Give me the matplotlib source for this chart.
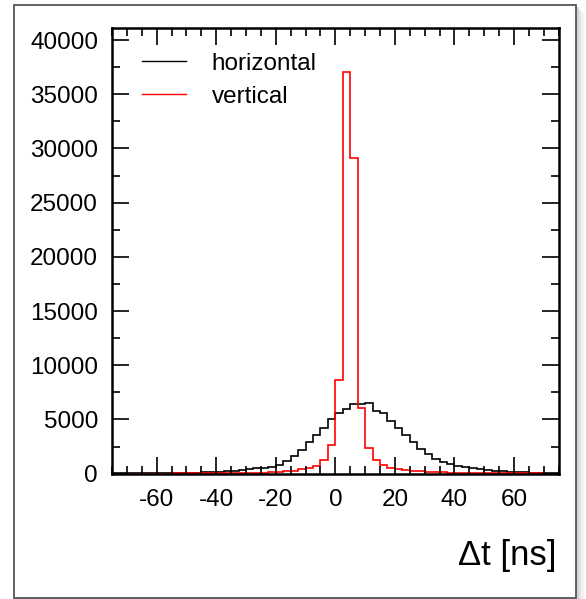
import matplotlib
matplotlib.use("Agg")
import matplotlib.pyplot as plt
from matplotlib.patches import Rectangle
from matplotlib.ticker import MultipleLocator
import numpy as np

# bin edges: 60 bins of 2.5 ns from -75 to 75
edges = np.arange(-75, 75.01, 2.5)

# horizontal counts per bin
horizontal = [15, 20, 25, 30, 35, 40, 50, 55, 65, 75,
              90, 100, 120, 140, 170, 200, 240, 330, 400, 490,
              560, 640, 800, 1150, 1600, 2180, 2870, 3560, 4250, 5080,
              5620, 5960, 6400, 6380, 6500, 5800, 5560, 4870, 4250, 3600,
              2890, 2280, 1780, 1330, 1110, 890, 700, 590, 480, 400,
              330, 270, 220, 180, 150, 120, 100, 80, 65, 50]

# vertical counts per bin
vertical = [4, 4, 5, 5, 6, 7, 8, 9, 10, 12,
            14, 16, 18, 20, 22, 25, 30, 35, 40, 60,
            80, 110, 150, 200, 270, 380, 480, 700, 1250, 2650,
            8600, 37100, 29100, 6050, 2330, 1250, 790, 550, 430, 330,
            260, 200, 160, 130, 110, 90, 75, 60, 50, 42,
            35, 30, 25, 20, 17, 14, 12, 10, 8, 6]

labels = ["horizontal", "vertical"]

plt.rcParams['font.family'] = ['Liberation Sans', 'DejaVu Sans']
plt.rcParams['axes.unicode_minus'] = False

fig = plt.figure(figsize=(5.86, 5.99), dpi=100)

# outer frame with a soft shadow on the right/bottom
for k, c in enumerate(['#f2f2f2', '#e4e4e4', '#d4d4d4']):
    off = (3 - k) * 2.5
    fig.patches.append(Rectangle(((13.5 + off) / 586, (1 - 598 / 599) - off / 599),
                                 (576 - 13.5) / 586, (598 - 4.7) / 599,
                                 transform=fig.transFigure, facecolor=c,
                                 edgecolor='none', zorder=-10 + k))
fig.patches.append(Rectangle((13.5 / 586, 1 - 598 / 599), (576 - 13.5) / 586,
                             (598 - 4.7) / 599, transform=fig.transFigure,
                             facecolor='white', edgecolor='#555555', lw=1.3, zorder=-5))

ax = fig.add_axes([112 / 586, 1 - 473.6 / 599, (558.7 - 112) / 586, (473.6 - 27.5) / 599])
ax.set_facecolor('none')
ax.set_zorder(1)

ax.stairs(horizontal, edges, color='black', lw=1.2, label=labels[0])
ax.stairs(vertical, edges, color='red', lw=1.2, label=labels[1])

ax.set_xlim(-75, 75)
ax.set_ylim(0, 41160)
ax.xaxis.set_major_locator(MultipleLocator(20))
ax.xaxis.set_minor_locator(MultipleLocator(5))
ax.yaxis.set_major_locator(MultipleLocator(5000))
ax.yaxis.set_minor_locator(MultipleLocator(2500))
ax.tick_params(which='both', direction='in', top=True, right=True, width=1.2)
ax.tick_params(which='major', length=12)
ax.tick_params(which='minor', length=6)
ax.tick_params(axis='x', which='major', labelsize=17.5, pad=11)
ax.tick_params(axis='y', which='major', labelsize=17.5, pad=10)
for s in ax.spines.values():
    s.set_linewidth(1.8)

leg = ax.legend(loc='upper left', bbox_to_anchor=(0.03, 0.981), frameon=False,
                fontsize=17.5, handlelength=1.81, handletextpad=1.03,
                labelspacing=0.44, borderpad=0.2)
for h in leg.get_lines():
    h.set_linewidth(1.0)

fig.text(557 / 586, 1 - 565 / 599, "Δt [ns]", ha='right', va='baseline', fontsize=25)

fig.savefig("out.png", dpi=100)
